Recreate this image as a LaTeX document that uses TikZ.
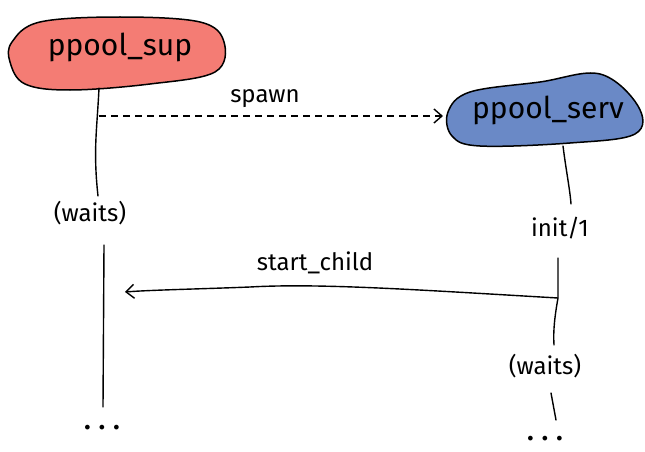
\documentclass[tikz,border=0pt]{standalone}
\usepackage{fontspec}
\setmainfont{Fira Sans}
\usetikzlibrary{arrows.meta}
\definecolor{supred}{HTML}{F47C74}
\definecolor{servblue}{HTML}{6A89C6}
\tikzset{
  lbl/.style={font=\fontsize{24}{28}\selectfont, inner sep=1pt},
  big/.style={font=\fontsize{30}{34}\selectfont, inner sep=1pt},
  dots/.style={font=\fontsize{26}{28}\selectfont\bfseries, inner sep=1pt},
  life/.style={line width=1.4pt, line cap=round},
  msg/.style={line width=1.4pt, -{Straight Barb[length=8pt,width=14pt,line width=1.4pt]}},
  blob/.style={line width=1.5pt, draw=black}
}
\begin{document}
\begin{tikzpicture}[x=1pt,y=-1pt]
\useasboundingbox (0,0) rectangle (645,452);
% blobs
\draw[blob, fill=supred] plot[smooth cycle, tension=0.6] coordinates
  {(12,42) (40,22) (120,17) (200,22) (224,42) (215,72) (150,84) (70,90) (25,84) (10,62)};
\draw[blob, fill=servblue] plot[smooth cycle, tension=0.6] coordinates
  {(448,112) (470,92) (540,82) (600,74) (638,106) (635,134) (570,143) (480,146) (452,136)};
\node[big] (sup) at (120,47) {ppool\_sup};
\node[big] (serv) at (548,110) {ppool\_serv};
% labels
\node[lbl] (w1) at (90,213) {(waits)};
\node[dots] (d1) at (102,428) {. . .};
\node[lbl] (init) at (560,228) {init/1};
\node[lbl] (w2) at (545,366) {(waits)};
\node[dots] (d2) at (545,439) {. . .};
% coordinates
\coordinate (a1) at (99,88);
\coordinate (s0) at (99,116);
\coordinate (a2) at (98,196);
\coordinate (b1) at (104,245);
\coordinate (b2) at (103,407);
\coordinate (c1) at (563,146);
\coordinate (c2) at (571,204);
\coordinate (e1) at (558,258);
\coordinate (sc) at (558,298);
\coordinate (e2) at (554,345);
\coordinate (f1) at (551,393);
\coordinate (f2) at (556,420);
\coordinate (arrL) at (125,292);
\coordinate (arrR) at (443,116);
% lifelines
\draw[life] (a1) .. controls (97,130) and (93,150) .. (a2);
\draw[life] (b1) -- (b2);
\draw[life] (c1) .. controls (566,170) and (570,190) .. (c2);
\draw[life] (e1) -- (sc) .. controls (555,315) and (553,330) .. (e2);
\draw[life] (f1) -- (f2);
% messages
\draw[msg, dashed, dash pattern=on 7pt off 5pt] (s0) -- (arrR);
\node[lbl] (spawn) at (265,99) {spawn};
\draw[msg] (sc) .. controls (420,290) and (320,283) .. (250,287) .. controls (200,289) and (150,290) .. (arrL);
\node[lbl] (sclbl) at (315,263) {start\_child};
\end{tikzpicture}
\end{document}
